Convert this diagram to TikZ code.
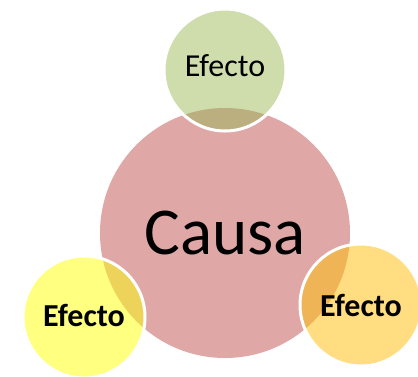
\documentclass[tikz,border=0pt]{standalone}
\usepackage{fontspec}
\setmainfont{Carlito}
\usetikzlibrary{positioning}

\definecolor{causapink}{RGB}{223,167,166}
\definecolor{efectoverde}{RGB}{207,221,173}
\definecolor{efectoamarillo}{RGB}{255,255,128}
\definecolor{efectonaranja}{RGB}{255,221,128}
\definecolor{cruceverde}{RGB}{187,175,128}
\definecolor{cruceamarillo}{RGB}{237,211,90}
\definecolor{crucenaranja}{RGB}{238,180,86}

\begin{document}
\begin{tikzpicture}[x=1pt,y=-1pt,
    bubble/.style={circle,inner sep=0pt,draw=white,line width=3pt},
    small/.style={bubble,minimum size=122pt,font=\fontsize{32}{32}\selectfont},
    smallbold/.style={small,font=\fontsize{32}{32}\selectfont\bfseries}]
  \useasboundingbox (0,0) rectangle (418,376);

  % big circle
  \node[bubble,draw=none,fill=causapink,minimum size=250pt,
        font=\fontsize{67}{67}\selectfont] (causa) at (225,233) {Causa};

  % top
  \node[small,fill=efectoverde,text depth=8pt,
        path picture={\fill[cruceverde] (causa.center) circle (125);}]
        (efectoA) at (225,70) {Efecto};

  % bottom left
  \node[smallbold,fill=efectoamarillo,text depth=3pt,
        path picture={\fill[cruceamarillo] (causa.center) circle (125);}]
        (efectoB) at (84,317) {Efecto};

  % bottom right
  \node[smallbold,fill=efectonaranja,
        path picture={\fill[crucenaranja] (causa.center) circle (125);}]
        (efectoC) at (361,305) {Efecto};
\end{tikzpicture}
\end{document}
